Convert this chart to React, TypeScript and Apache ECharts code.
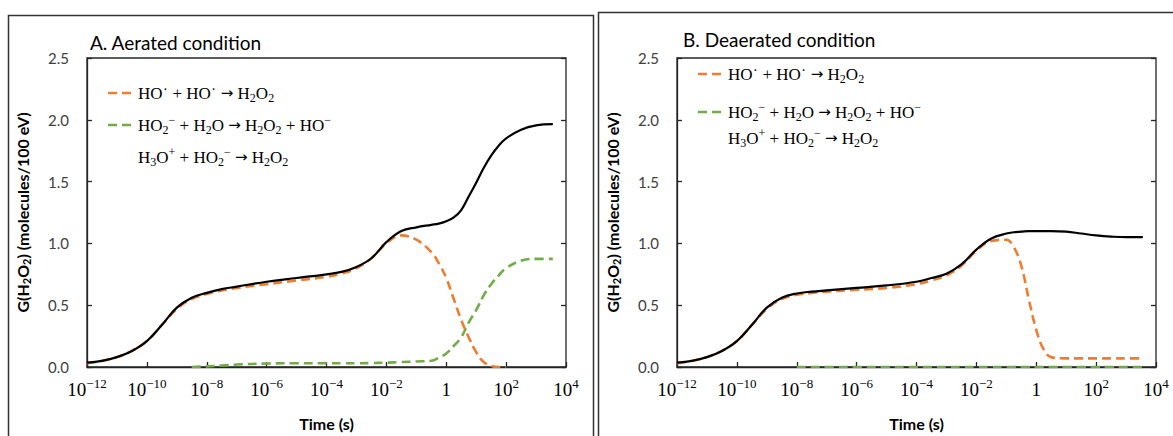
import React, { useEffect, useRef } from "react";
import * as echarts from "echarts";

// log10 of time (s)
const timeA = [-12, -11.5, -11, -10.5, -10, -9.5, -9, -8.5, -8, -7.5, -7, -6, -5, -4, -3.5, -3, -2.5, -2, -1.5, -1, -0.5, -0.25, 0, 0.25, 0.5, 0.75, 1, 1.25, 1.5, 1.75, 2, 2.5, 3, 3.56];
const totalA = [0.035, 0.05, 0.08, 0.13, 0.21, 0.34, 0.48, 0.56, 0.6, 0.63, 0.65, 0.69, 0.72, 0.75, 0.77, 0.81, 0.88, 1.01, 1.1, 1.13, 1.15, 1.16, 1.18, 1.21, 1.27, 1.38, 1.49, 1.61, 1.71, 1.79, 1.85, 1.92, 1.955, 1.965];
const hoA = [0.03, 0.05, 0.08, 0.13, 0.21, 0.34, 0.47, 0.55, 0.59, 0.62, 0.64, 0.67, 0.7, 0.73, 0.755, 0.8, 0.88, 1.0, 1.065, 1.03, 0.93, 0.84, 0.72, 0.55, 0.38, 0.24, 0.12, 0.04, 0.01, 0, 0, null, null, null];
const ho2A = [null, null, null, null, null, null, null, 0, 0.005, 0.012, 0.02, 0.028, 0.03, 0.03, 0.03, 0.03, 0.032, 0.035, 0.04, 0.045, 0.05, 0.075, 0.11, 0.17, 0.24, 0.36, 0.46, 0.58, 0.67, 0.74, 0.8, 0.86, 0.875, 0.875];

const timeB = [-12, -11.5, -11, -10.5, -10, -9.5, -9, -8.5, -8, -7.5, -7, -6, -5, -4, -3.5, -3, -2.5, -2, -1.5, -1, -0.75, -0.5, -0.25, 0, 0.25, 0.5, 1, 1.5, 2, 2.5, 3, 3.56];
const totalB = [0.035, 0.05, 0.08, 0.13, 0.21, 0.34, 0.48, 0.56, 0.595, 0.61, 0.62, 0.64, 0.66, 0.69, 0.72, 0.755, 0.83, 0.95, 1.04, 1.08, 1.09, 1.095, 1.1, 1.1, 1.1, 1.1, 1.095, 1.08, 1.065, 1.055, 1.05, 1.05];
const hoB = [0.03, 0.05, 0.08, 0.13, 0.21, 0.34, 0.47, 0.55, 0.585, 0.6, 0.61, 0.625, 0.64, 0.67, 0.7, 0.74, 0.82, 0.94, 1.02, 1.03, 0.97, 0.82, 0.55, 0.3, 0.14, 0.08, 0.07, 0.07, 0.07, 0.07, 0.07, 0.07];
const ho2B = [null, null, null, null, null, null, null, null, 0, 0, 0, 0, 0, 0, 0, 0, 0, 0, 0, 0, 0, 0, 0, 0, 0, 0, 0, 0, 0, 0, 0, 0];

const yTicks = { min: 0, max: 2.5, interval: 0.5 };
const xTicks = { min: -12, max: 4, interval: 2 };

const titles = ["A. Aerated condition", "B. Deaerated condition"];
const legend1 = "{n|HO˙ + HO˙ }{a|→}{n| H}{sub|2}{n|O}{sub|2}";
const legend2 = "{n|HO}{sub|2}{sup|−}{n| + H}{sub|2}{n|O }{a|→}{n| H}{sub|2}{n|O}{sub|2}{n| + HO}{sup|−}";
const legend3 = "{n|H}{sub|3}{n|O}{sup|+}{n| + HO}{sub|2}{sup|−}{n| }{a|→}{n| H}{sub|2}{n|O}{sub|2}";

const ORANGE = "#ED7D31";
const GREEN = "#70AD47";
const DARK = "#262626";

const pair = (t: number[], v: (number | null)[]) => t.map((x, i) => [x, v[i]]);

export default function App() {
  const ref = useRef<HTMLDivElement>(null);
  useEffect(() => {
    if (!ref.current) return;
    const chart = echarts.init(ref.current, null, { renderer: "svg" });
    const lefts = [87, 677];
    const serif = "Liberation Serif";
    const richLegend = {
      n: { fontFamily: serif, fontSize: 17, lineHeight: 22, color: "#000" },
      a: { fontFamily: "DejaVu Sans", fontSize: 15, lineHeight: 22, color: "#000" },
      sub: { fontFamily: serif, fontSize: 12, lineHeight: 12, verticalAlign: "bottom", color: "#000" },
      sup: { fontFamily: serif, fontSize: 12, lineHeight: 12, verticalAlign: "top", color: "#000" },
    };
    const grids = lefts.map((l) => ({
      left: l, top: 58, width: 479, height: 312, show: true,
      borderColor: DARK, borderWidth: 1.3, backgroundColor: "#fff",
    }));
    const xAxes = [0, 1].map((i) => ({
      type: "value", gridIndex: i, ...xTicks,
      axisLine: { show: true, onZero: false, lineStyle: { color: DARK, width: 1.3 } },
      axisTick: { show: true, inside: true, length: 5, lineStyle: { color: DARK, width: 1.3 } },
      splitLine: { show: false },
      axisLabel: {
        margin: 10,
        formatter: (v: number) => (v === 0 ? "{b|1}" : `{b|10}{s|${v < 0 ? "−" : ""}${Math.abs(v)}}`),
        rich: {
          b: { fontFamily: serif, fontSize: 19, lineHeight: 24, color: "#000" },
          s: { fontFamily: serif, fontSize: 13, lineHeight: 13, verticalAlign: "top", color: "#000" },
        },
      },
      name: "Time (s)", nameLocation: "middle", nameGap: 48,
      nameTextStyle: { fontFamily: "Lato", fontWeight: "bold", fontSize: 16, color: "#000" },
    }));
    const yAxes: any[] = [];
    [0, 1].forEach((i) => {
      yAxes.push({
        type: "value", gridIndex: i, position: "left", ...yTicks,
        axisLine: { show: true, onZero: false, lineStyle: { color: DARK, width: 1.3 } },
        axisTick: { show: true, inside: true, length: 5, lineStyle: { color: DARK, width: 1.3 } },
        splitLine: { show: false },
        axisLabel: { margin: 18, formatter: (v: number) => v.toFixed(1), fontFamily: "Lato", fontSize: 15, color: "#404040" },
        name: "{n|G(H}{s|2}{n|O}{s|2}{n|) (molecules/100 eV)}",
        nameLocation: "middle", nameGap: 55,
        nameTextStyle: {
          rich: {
            n: { fontFamily: "Lato", fontWeight: "bold", fontSize: 16, lineHeight: 20, color: "#000" },
            s: { fontFamily: "Lato", fontWeight: "bold", fontSize: 11, lineHeight: 11, verticalAlign: "bottom", color: "#000" },
          },
        },
      });
      yAxes.push({
        type: "value", gridIndex: i, position: "right", ...yTicks,
        axisLine: { show: false, onZero: false },
        axisTick: { show: true, inside: true, length: 5, lineStyle: { color: DARK, width: 1.3 } },
        splitLine: { show: false },
        axisLabel: { show: false },
      });
    });
    const line = (name: string, xi: number, yi: number, data: any[], color: string, dashed: boolean, z: number) => ({
      type: "line", name, xAxisIndex: xi, yAxisIndex: yi, data, smooth: 0.4, showSymbol: false, symbol: "none",
      connectNulls: false, z,
      lineStyle: { color, width: dashed ? 2.6 : 2.2, type: dashed ? [9, 5] : "solid" },
    });
    const series = [
      line("HO2- A", 0, 0, pair(timeA, ho2A), GREEN, true, 2),
      line("HO A", 0, 0, pair(timeA, hoA), ORANGE, true, 3),
      line("Total A", 0, 0, pair(timeA, totalA), "#000", false, 4),
      line("HO2- B", 1, 2, pair(timeB, ho2B), GREEN, true, 2),
      line("HO B", 1, 2, pair(timeB, hoB), ORANGE, true, 3),
      line("Total B", 1, 2, pair(timeB, totalB), "#000", false, 4),
    ];
    const legendGroup = (x: number, y1: number, y2: number, y3: number) => [
      { type: "line", shape: { x1: x, y1: y1, x2: x + 24, y2: y1 }, style: { stroke: ORANGE, lineWidth: 2.6, lineDash: [9, 5] }, z: 10 },
      { type: "text", x: x + 30, y: y1, style: { text: legend1, rich: richLegend, verticalAlign: "middle" }, z: 10 },
      { type: "line", shape: { x1: x, y1: y2, x2: x + 24, y2: y2 }, style: { stroke: GREEN, lineWidth: 2.6, lineDash: [9, 5] }, z: 10 },
      { type: "text", x: x + 30, y: y2, style: { text: legend2, rich: richLegend, verticalAlign: "middle" }, z: 10 },
      { type: "text", x: x + 30, y: y3, style: { text: legend3, rich: richLegend, verticalAlign: "middle" }, z: 10 },
    ];
    const graphic = [
      { type: "rect", shape: { x: 8.5, y: 15.5, width: 585, height: 440 }, style: { fill: "none", stroke: "#333", lineWidth: 1.5 }, z: -1 },
      { type: "rect", shape: { x: 598.5, y: 12.5, width: 590, height: 440 }, style: { fill: "none", stroke: "#333", lineWidth: 1.5 }, z: -1 },
      { type: "text", x: 90, y: 42, style: { text: titles[0], fontFamily: "Lato", fontSize: 19, fill: "#000", verticalAlign: "middle" }, z: 10 },
      { type: "text", x: 683, y: 39, style: { text: titles[1], fontFamily: "Lato", fontSize: 19, fill: "#000", verticalAlign: "middle" }, z: 10 },
      ...legendGroup(108, 93, 125, 157),
      ...legendGroup(698, 74, 112, 138),
    ];
    chart.setOption({ animation: false, grid: grids, xAxis: xAxes, yAxis: yAxes, series, graphic });
    return () => chart.dispose();
  }, []);
  return <div ref={ref} style={{ position: "absolute", left: 0, top: 0, width: 1173, height: 436, background: "#fff" }} />;
}
